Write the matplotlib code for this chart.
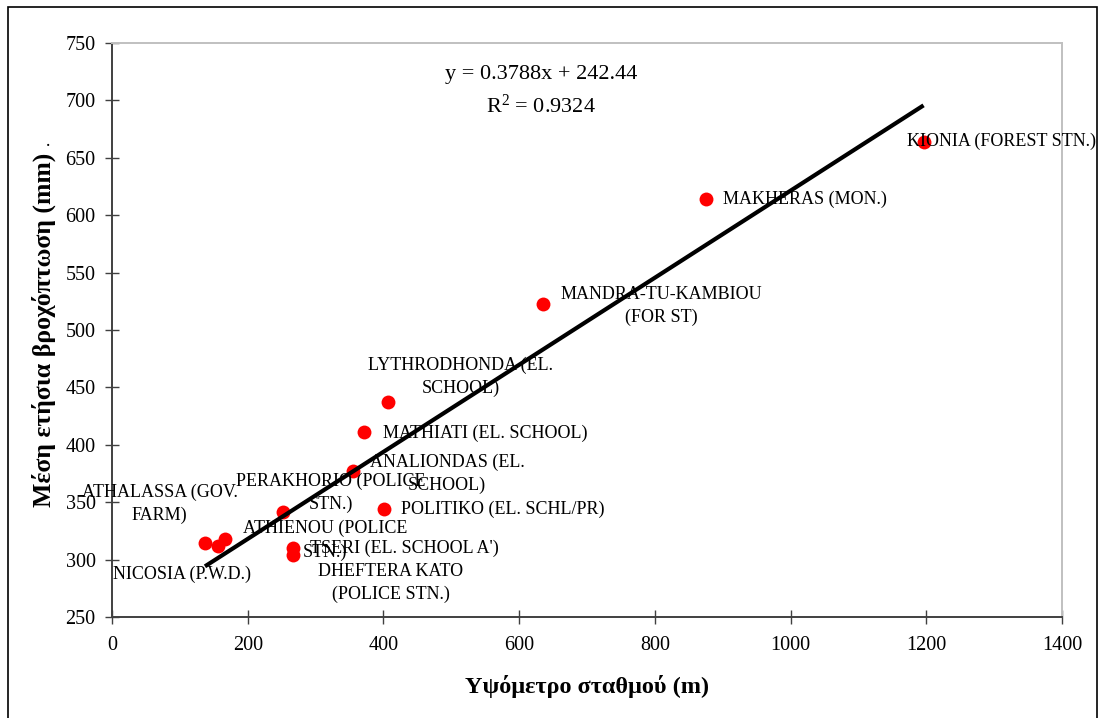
import matplotlib
matplotlib.use("Agg")
import matplotlib.pyplot as plt
from matplotlib.patches import Rectangle

plt.rcParams["font.family"] = ["Liberation Serif", "DejaVu Serif"]
plt.rcParams["mathtext.fontset"] = "custom"
plt.rcParams["mathtext.rm"] = "Liberation Serif"
plt.rcParams["mathtext.it"] = "Liberation Serif:italic"

# Station data: altitude (m) and mean annual rainfall (mm)
stations = [
    "ATHALASSA (GOV.\nFARM)",
    "NICOSIA (P.W.D.)",
    "ATHIENOU (POLICE\nSTN.)",
    "PERAKHORIO (POLICE\nSTN.)",
    "TSERI (EL. SCHOOL A')",
    "DHEFTERA KATO\n(POLICE STN.)",
    "ANALIONDAS (EL.\nSCHOOL)",
    "MATHIATI (EL. SCHOOL)",
    "POLITIKO (EL. SCHL/PR)",
    "LYTHRODHONDA (EL.\nSCHOOL)",
    "MANDRA-TU-KAMBIOU\n(FOR ST)",
    "MAKHERAS (MON.)",
    "KIONIA (FOREST STN.)",
]
altitude = [137, 156, 167, 252, 267, 267, 355, 371, 401, 407, 635, 876, 1196]
rainfall = [315, 312, 318, 342, 310, 304, 377, 411, 344, 437, 523, 614, 664]

# Where each station name is written (centre of the text, data units)
label_pos = [
    (70, 349), (103, 287), (314, 317), (323, 358), (431, 310),
    (411, 280), (494, 375), (550, 410), (576, 344), (514, 459),
    (809, 521), (1021, 614), (1311, 664),
]

# Linear trend
slope = 0.3788
intercept = 242.44
r_squared = 0.9324

W, H = 1099, 718
fig = plt.figure(figsize=(W / 100, H / 100), dpi=100)
ax = fig.add_axes([112 / W, 1 - 617.3 / H, (1062 - 112) / W, (617.3 - 42.7) / H])

ax.scatter(altitude, rainfall, s=10 ** 2, color="#ff0000", zorder=3, linewidths=0)

x0, x1 = min(altitude), max(altitude)
ax.plot([x0, x1], [slope * x0 + intercept, slope * x1 + intercept],
        color="black", lw=3.0, zorder=4, solid_capstyle="butt")

for name, (lx, ly) in zip(stations, label_pos):
    ax.text(lx, ly, name, ha="center", va="center", multialignment="center",
            fontsize=13, linespacing=1.45, zorder=5, clip_on=False)

ax.text(0.4516, 0.9438, f"y = {slope}x + {intercept}", transform=ax.transAxes,
        ha="center", va="center", fontsize=16)
ax.text(0.4516, 0.890, f"R$^{{2}}$ = {r_squared}", transform=ax.transAxes,
        ha="center", va="center", fontsize=16)

ax.set_xlim(0, 1400)
ax.set_ylim(250, 750)
ax.set_xticks(range(0, 1401, 200))
ax.set_yticks(range(250, 751, 50))

for side in ("left", "bottom"):
    ax.spines[side].set_color("#404040")
    ax.spines[side].set_linewidth(1.4)
for side in ("top", "right"):
    ax.spines[side].set_color("#c0c0c0")
    ax.spines[side].set_linewidth(1.4)

ax.tick_params(axis="both", direction="inout", length=9.5, width=1.0,
               color="#404040", labelsize=14.5)
ax.tick_params(axis="x", pad=9)
ax.tick_params(axis="y", pad=7)

ax.set_xlabel("Υψόμετρο σταθμού (m)", fontsize=17.5, fontweight="bold", labelpad=14)
ax.set_ylabel("Μέση ετήσια βροχόπτωση (mm)", fontsize=18.5, fontweight="bold", labelpad=7)

fig.text(48 / W, 1 - 141 / H, ".", fontsize=13, ha="center", va="center")

fig.add_artist(Rectangle((8 / W, -0.1), (1096.7 - 8) / W, 1.1 - 7.3 / H,
                         transform=fig.transFigure, fill=False,
                         edgecolor="black", lw=1.2))

fig.savefig("out.png", dpi=100)
